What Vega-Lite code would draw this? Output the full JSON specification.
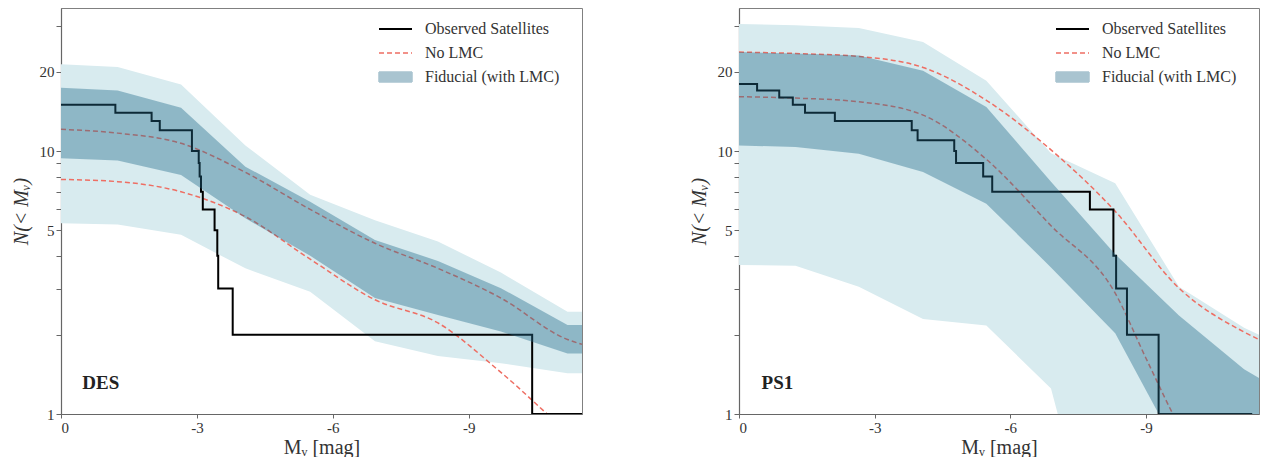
{
  "$schema": "https://vega.github.io/schema/vega-lite/v6.json",
  "padding": {"left": 10, "top": 7, "right": 1, "bottom": 1},
  "bounds": "flush",
  "spacing": 157,
  "datasets": {
    "des_band": [
      {"mv": 0, "hi95": 21.4, "hi68": 17.4, "lo68": 9.38, "lo95": 5.31},
      {"mv": -1.25, "hi95": 20.9, "hi68": 17.0, "lo68": 9.21, "lo95": 5.26},
      {"mv": -2.65, "hi95": 17.9, "hi68": 14.6, "lo68": 8.11, "lo95": 4.80},
      {"mv": -4.07, "hi95": 10.5, "hi68": 8.72, "lo68": 5.55, "lo95": 3.58},
      {"mv": -5.5, "hi95": 6.82, "hi68": 6.42, "lo68": 4.0, "lo95": 2.92},
      {"mv": -6.93, "hi95": 5.45, "hi68": 4.59, "lo68": 2.76, "lo95": 1.89},
      {"mv": -8.32, "hi95": 4.53, "hi68": 3.82, "lo68": 2.38, "lo95": 1.66},
      {"mv": -9.71, "hi95": 3.45, "hi68": 3.01, "lo68": 2.06, "lo95": 1.56},
      {"mv": -11.18, "hi95": 2.45, "hi68": 2.18, "lo68": 1.70, "lo95": 1.43},
      {"mv": -11.5, "hi95": 2.45, "hi68": 2.18, "lo68": 1.70, "lo95": 1.43}
    ],
    "des_nolmc": [
      {"mv": 0, "n": 12.1, "q": "hi"},
      {"mv": -1.25, "n": 11.7, "q": "hi"},
      {"mv": -2.65, "n": 10.7, "q": "hi"},
      {"mv": -4.07, "n": 8.3, "q": "hi"},
      {"mv": -5.5, "n": 6.0, "q": "hi"},
      {"mv": -6.93, "n": 4.46, "q": "hi"},
      {"mv": -8.32, "n": 3.58, "q": "hi"},
      {"mv": -9.71, "n": 2.76, "q": "hi"},
      {"mv": -11.18, "n": 1.92, "q": "hi"},
      {"mv": -11.5, "n": 1.84, "q": "hi"},
      {"mv": 0, "n": 7.8, "q": "lo"},
      {"mv": -1.25, "n": 7.65, "q": "lo"},
      {"mv": -2.65, "n": 7.0, "q": "lo"},
      {"mv": -4.07, "n": 5.63, "q": "lo"},
      {"mv": -5.5, "n": 3.88, "q": "lo"},
      {"mv": -6.93, "n": 2.72, "q": "lo"},
      {"mv": -8.32, "n": 2.22, "q": "lo"},
      {"mv": -9.71, "n": 1.44, "q": "lo"},
      {"mv": -11.18, "n": 0.86, "q": "lo"},
      {"mv": -11.5, "n": 0.78, "q": "lo"}
    ],
    "des_obs": [
      {"mv": -11.5, "n": 1},
      {"mv": -10.4, "n": 2},
      {"mv": -3.79, "n": 3},
      {"mv": -3.47, "n": 4},
      {"mv": -3.45, "n": 5},
      {"mv": -3.39, "n": 6},
      {"mv": -3.13, "n": 7},
      {"mv": -3.09, "n": 8},
      {"mv": -3.06, "n": 9},
      {"mv": -3.04, "n": 10},
      {"mv": -2.89, "n": 12},
      {"mv": -2.18, "n": 13},
      {"mv": -2.0, "n": 14},
      {"mv": -1.2, "n": 15},
      {"mv": 0, "n": 15}
    ],
    "des_label": [{"label": "DES", "mv": -0.47, "n": 1.24}],
    "ps1_band": [
      {"mv": 0, "hi95": 30.4, "hi68": 23.8, "lo68": 10.5, "lo95": 3.69},
      {"mv": -1.25, "hi95": 30.1, "hi68": 23.5, "lo68": 10.36, "lo95": 3.66},
      {"mv": -2.65, "hi95": 29.4, "hi68": 23.1, "lo68": 9.77, "lo95": 3.05},
      {"mv": -4.07, "hi95": 26.0, "hi68": 20.2, "lo68": 8.33, "lo95": 2.30},
      {"mv": -5.47, "hi95": 18.5, "hi68": 14.7, "lo68": 6.31, "lo95": 2.17},
      {"mv": -6.9, "hi95": 9.8, "hi68": 7.65, "lo68": 3.61, "lo95": 1.25},
      {"mv": -8.32, "hi95": 7.54, "hi68": 4.05, "lo68": 2.03, "lo95": 0.15},
      {"mv": -9.73, "hi95": 3.05, "hi68": 2.37, "lo68": 0.72, "lo95": 0.1},
      {"mv": -11.17, "hi95": 2.13, "hi68": 1.48, "lo68": 0.4, "lo95": 0.1},
      {"mv": -11.5, "hi95": 2.0, "hi68": 1.37, "lo68": 0.35, "lo95": 0.1}
    ],
    "ps1_nolmc": [
      {"mv": 0, "n": 23.8, "q": "hi"},
      {"mv": -1.25, "n": 23.5, "q": "hi"},
      {"mv": -2.65, "n": 22.9, "q": "hi"},
      {"mv": -4.07, "n": 20.8, "q": "hi"},
      {"mv": -5.47, "n": 15.6, "q": "hi"},
      {"mv": -6.9, "n": 10.1, "q": "hi"},
      {"mv": -8.32, "n": 5.9, "q": "hi"},
      {"mv": -9.73, "n": 3.01, "q": "hi"},
      {"mv": -11.17, "n": 2.05, "q": "hi"},
      {"mv": -11.5, "n": 1.92, "q": "hi"},
      {"mv": 0, "n": 16.1, "q": "lo"},
      {"mv": -1.25, "n": 15.9, "q": "lo"},
      {"mv": -2.65, "n": 15.4, "q": "lo"},
      {"mv": -4.07, "n": 13.7, "q": "lo"},
      {"mv": -5.47, "n": 9.3, "q": "lo"},
      {"mv": -6.9, "n": 5.2, "q": "lo"},
      {"mv": -8.32, "n": 2.88, "q": "lo"},
      {"mv": -9.0, "n": 1.63, "q": "lo"},
      {"mv": -9.73, "n": 0.9, "q": "lo"},
      {"mv": -11.5, "n": 0.3, "q": "lo"}
    ],
    "ps1_obs": [
      {"mv": -11.35, "n": 1},
      {"mv": -9.28, "n": 2},
      {"mv": -8.58, "n": 3},
      {"mv": -8.34, "n": 4},
      {"mv": -8.28, "n": 6},
      {"mv": -7.76, "n": 7},
      {"mv": -5.6, "n": 8},
      {"mv": -5.4, "n": 9},
      {"mv": -4.8, "n": 10},
      {"mv": -4.76, "n": 11},
      {"mv": -3.95, "n": 12},
      {"mv": -3.82, "n": 13},
      {"mv": -2.12, "n": 14},
      {"mv": -1.46, "n": 15},
      {"mv": -1.19, "n": 16},
      {"mv": -0.89, "n": 17},
      {"mv": -0.4, "n": 18},
      {"mv": 0, "n": 18}
    ],
    "ps1_label": [{"label": "PS1", "mv": -0.5, "n": 1.24}]
  },
  "hconcat": [
    {
      "width": 521,
      "height": 406,
      "layer": [
        {
          "data": {"name": "des_band"},
          "mark": {"type": "area", "clip": true, "color": "#d8ebef"},
          "encoding": {
            "x": {"field": "mv", "type": "quantitative", "title": "Mᵥ [mag]",
              "scale": {"domain": [0, -11.5], "nice": false, "zero": false},
              "axis": {"values": [0, -3, -6, -9], "labelExpr": "'' + datum.value", "tickSize": 4, "labelPadding": 2, "titlePadding": 2}},
            "y": {"field": "hi95", "type": "quantitative", "title": "N(< Mᵥ)",
              "scale": {"type": "log", "domain": [1, 35], "nice": false},
              "axis": {"values": [1, 2, 3, 4, 5, 6, 7, 8, 9, 10, 20, 30], "labelExpr": "indexof([1,5,10,20], datum.value) >= 0 ? datum.label : ''", "tickSize": 5, "labelPadding": 2, "titlePadding": 8, "titleFontStyle": "italic",
                "encode": {"ticks": {"update": {"x2": {"signal": "indexof([1,5,10,20], datum.value) >= 0 ? -5 : -3"}}}}}},
            "y2": {"field": "lo95"}
          }
        },
        {
          "data": {"name": "des_nolmc"},
          "mark": {"type": "line", "clip": true, "strokeDash": [5, 3], "strokeWidth": 1.5, "interpolate": "monotone"},
          "encoding": {
            "x": {"field": "mv", "type": "quantitative"},
            "y": {"field": "n", "type": "quantitative"},
            "detail": {"field": "q"},
            "color": {"datum": "No LMC", "type": "nominal",
              "scale": {"domain": ["Observed Satellites", "No LMC", "Fiducial (with LMC)"], "range": ["#000000", "#ee6e63", "#a9c4d0"]},
              "legend": {"title": null, "orient": "none", "legendX": 315, "legendY": 13, "padding": 0, "symbolSize": 100, "labelOffset": 33, "rowPadding": 8,
                "encode": {"symbols": {"update": {
                  "shape": {"signal": "datum.value === 'Fiducial (with LMC)' ? 'M-1,-1H5.6V1H-1Z' : 'M-1,0H5.6'"},
                  "stroke": {"signal": "datum.value === 'Observed Satellites' ? '#000000' : datum.value === 'No LMC' ? '#ee6e63' : 'transparent'"},
                  "fill": {"signal": "datum.value === 'Fiducial (with LMC)' ? '#a9c4d0' : 'transparent'"},
                  "strokeWidth": {"signal": "datum.value === 'Observed Satellites' ? 2 : 1.5"},
                  "strokeDash": {"signal": "datum.value === 'No LMC' ? [5, 3] : [1, 0]"},
                  "opacity": {"value": 1},
                  "fillOpacity": {"value": 1},
                  "strokeOpacity": {"value": 1}
                }}}}}
          }
        },
        {
          "data": {"name": "des_obs"},
          "mark": {"type": "line", "clip": true, "interpolate": "step-before", "strokeWidth": 2},
          "encoding": {
            "x": {"field": "mv", "type": "quantitative"},
            "y": {"field": "n", "type": "quantitative"},
            "color": {"datum": "Observed Satellites", "type": "nominal"}
          }
        },
        {
          "data": {"name": "des_band"},
          "mark": {"type": "area", "clip": true, "opacity": 0.4, "color": "#21698a"},
          "encoding": {
            "x": {"field": "mv", "type": "quantitative"},
            "y": {"field": "hi68", "type": "quantitative"},
            "y2": {"field": "lo68"}
          }
        },
        {
          "data": {"name": "des_label"},
          "mark": {"type": "text", "align": "left", "baseline": "alphabetic", "fontWeight": "bold", "fontSize": 19, "color": "#222", "font": "Liberation Serif"},
          "encoding": {
            "x": {"field": "mv", "type": "quantitative"},
            "y": {"field": "n", "type": "quantitative"},
            "text": {"field": "label"}
          }
        }
      ]
    },
    {
      "width": 520,
      "height": 406,
      "layer": [
        {
          "data": {"name": "ps1_band"},
          "mark": {"type": "area", "clip": true, "color": "#d8ebef"},
          "encoding": {
            "x": {"field": "mv", "type": "quantitative", "title": "Mᵥ [mag]",
              "scale": {"domain": [0, -11.5], "nice": false, "zero": false},
              "axis": {"values": [0, -3, -6, -9], "labelExpr": "'' + datum.value", "tickSize": 4, "labelPadding": 2, "titlePadding": 2}},
            "y": {"field": "hi95", "type": "quantitative", "title": "N(< Mᵥ)",
              "scale": {"type": "log", "domain": [1, 35], "nice": false},
              "axis": {"values": [1, 2, 3, 4, 5, 6, 7, 8, 9, 10, 20, 30], "labelExpr": "indexof([1,5,10,20], datum.value) >= 0 ? datum.label : ''", "tickSize": 5, "labelPadding": 2, "titlePadding": 8, "titleFontStyle": "italic",
                "encode": {"ticks": {"update": {"x2": {"signal": "indexof([1,5,10,20], datum.value) >= 0 ? -5 : -3"}}}}}},
            "y2": {"field": "lo95"}
          }
        },
        {
          "data": {"name": "ps1_nolmc"},
          "mark": {"type": "line", "clip": true, "strokeDash": [5, 3], "strokeWidth": 1.5, "interpolate": "monotone"},
          "encoding": {
            "x": {"field": "mv", "type": "quantitative"},
            "y": {"field": "n", "type": "quantitative"},
            "detail": {"field": "q"},
            "color": {"datum": "No LMC", "type": "nominal",
              "scale": {"domain": ["Observed Satellites", "No LMC", "Fiducial (with LMC)"], "range": ["#000000", "#ee6e63", "#a9c4d0"]},
              "legend": {"title": null, "orient": "none", "legendX": 314, "legendY": 13, "padding": 0, "symbolSize": 100, "labelOffset": 33, "rowPadding": 8,
                "encode": {"symbols": {"update": {
                  "shape": {"signal": "datum.value === 'Fiducial (with LMC)' ? 'M-1,-1H5.6V1H-1Z' : 'M-1,0H5.6'"},
                  "stroke": {"signal": "datum.value === 'Observed Satellites' ? '#000000' : datum.value === 'No LMC' ? '#ee6e63' : 'transparent'"},
                  "fill": {"signal": "datum.value === 'Fiducial (with LMC)' ? '#a9c4d0' : 'transparent'"},
                  "strokeWidth": {"signal": "datum.value === 'Observed Satellites' ? 2 : 1.5"},
                  "strokeDash": {"signal": "datum.value === 'No LMC' ? [5, 3] : [1, 0]"},
                  "opacity": {"value": 1},
                  "fillOpacity": {"value": 1},
                  "strokeOpacity": {"value": 1}
                }}}}}
          }
        },
        {
          "data": {"name": "ps1_obs"},
          "mark": {"type": "line", "clip": true, "interpolate": "step-before", "strokeWidth": 2},
          "encoding": {
            "x": {"field": "mv", "type": "quantitative"},
            "y": {"field": "n", "type": "quantitative"},
            "color": {"datum": "Observed Satellites", "type": "nominal"}
          }
        },
        {
          "data": {"name": "ps1_band"},
          "mark": {"type": "area", "clip": true, "opacity": 0.4, "color": "#21698a"},
          "encoding": {
            "x": {"field": "mv", "type": "quantitative"},
            "y": {"field": "hi68", "type": "quantitative"},
            "y2": {"field": "lo68"}
          }
        },
        {
          "data": {"name": "ps1_label"},
          "mark": {"type": "text", "align": "left", "baseline": "alphabetic", "fontWeight": "bold", "fontSize": 19, "color": "#222", "font": "Liberation Serif"},
          "encoding": {
            "x": {"field": "mv", "type": "quantitative"},
            "y": {"field": "n", "type": "quantitative"},
            "text": {"field": "label"}
          }
        }
      ]
    }
  ],
  "resolve": {"legend": {"color": "independent"}},
  "config": {
    "font": "Liberation Serif",
    "view": {"stroke": "#808080", "strokeWidth": 1},
    "axis": {
      "grid": false,
      "domainColor": "#666666",
      "domainWidth": 1.2,
      "tickColor": "#666666",
      "labelColor": "#333333",
      "titleColor": "#333333",
      "labelFont": "Liberation Serif",
      "titleFont": "Liberation Serif",
      "labelFontSize": 15,
      "titleFontSize": 20,
      "titleFontWeight": "normal"
    },
    "legend": {
      "labelFont": "Liberation Serif",
      "labelFontSize": 16,
      "labelColor": "#333333",
      "labelLimit": 300
    }
  }
}
